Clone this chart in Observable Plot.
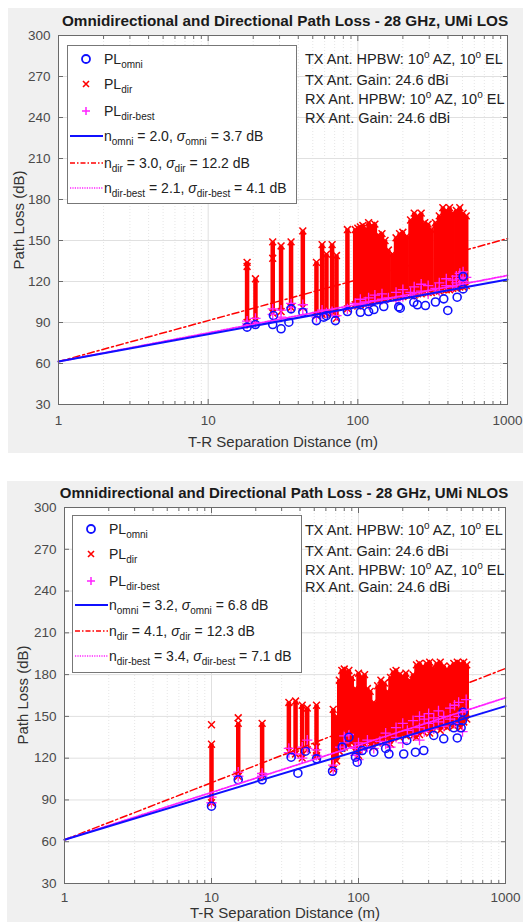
<!DOCTYPE html>
<html>
<head>
<meta charset="utf-8">
<script src="https://cdn.jsdelivr.net/npm/d3@7"></script>
<script src="https://cdn.jsdelivr.net/npm/@observablehq/plot@0.6"></script>
<style>
  body { margin:0; width:523px; height:922px; position:relative; background:#fff; overflow:hidden;
         font-family: "Liberation Sans", Arial, Helvetica, sans-serif; color:#222; }
  .panel { position:absolute; background:#f0f0f0; overflow:hidden; }
  .panel svg { position:absolute; left:0; top:0; }
  .title { position:absolute; font-weight:bold; white-space:nowrap; transform:translate(-50%,-50%); color:#1a1a1a; }
  .xlab { position:absolute; font-size:15px; white-space:nowrap; transform:translate(-50%,-50%); color:#333; }
  .ylab { position:absolute; font-size:15px; white-space:nowrap; transform:translate(-50%,-50%) rotate(-90deg); color:#333; }
  .legend { position:absolute; background:#fff; border:1px solid #777; box-sizing:border-box; }
  .lrow { position:absolute; left:0; height:22px; transform:translateY(-50%); white-space:nowrap; font-size:14px; line-height:22px; color:#222; }
  .lrow svg { position:absolute; left:0; top:0; }
  .lrow span.t { position:absolute; left:36px; top:0; }
  sub { font-size:10px; vertical-align:-4px; line-height:0; }
  .ann { position:absolute; font-size:14.5px; white-space:nowrap; transform:translateY(-50%); color:#222; }
  sup { font-size:10px; vertical-align:6px; line-height:0; }
  i.s { font-style:italic; }
</style>
</head>
<body>
<div id="p1" class="panel" style="left:8px; top:8px; width:515px; height:445px;"></div>
<div id="p2" class="panel" style="left:7px; top:481px; width:516px; height:441px;"></div>
<script>
// ---------- ticks ----------
const majorX = [1, 10, 100, 1000];
const minorX = [2,3,4,5,6,7,8,9,20,30,40,50,60,70,80,90,200,300,400,500,600,700,800,900];
const yTicks = [30, 60, 90, 120, 150, 180, 210, 240, 270, 300];

// ---------- LOS (top) ----------
const losOmniDist = [18.2, 20.7, 27, 27.3, 30.7, 34.6, 35.8, 42.9, 52.9, 59.2, 61.7, 70.8, 85.2, 104, 118, 128, 149, 187.6, 192, 236.6, 250, 283, 330, 375, 399, 461, 505, 505];
const losOmniPL   = [86.6, 88.5, 88.5, 95.1, 85.4, 90.2, 100, 97.5, 91.4, 93.9, 95, 91.4, 98, 97.5, 98, 99.5, 101.7, 101.4, 100.5, 104.8, 103, 102.4, 105, 107.3, 98.8, 108.5, 114.6, 123.6];

const losDirDist = [18.2, 20.7, 27, 30.7, 35.8, 42.9, 52.9, 57.7, 61.7, 67.3, 72, 85.2, 96, 100, 104, 108, 113, 118, 124, 130, 137, 145, 152, 160, 170, 180, 190, 200, 212, 225, 238, 250, 265, 280, 295, 310, 330, 350, 370, 390, 410, 430, 455, 480, 505, 530];
const losDirHi   = [134, 122, 149, 146, 149, 157, 134, 147, 140, 147, 139, 158, 158, 159, 160, 161, 158, 163, 161, 162, 154, 155, 150, 143, 140, 152, 155, 156, 153, 165, 170, 168, 170, 163, 162, 158, 163, 168, 174, 172, 174, 170, 172, 174, 170, 168];
const losDirLo   = [90, 91, 97, 98, 101, 101, 95, 96, 97, 96, 93, 100, 103, 102, 103, 104, 104, 104, 105, 106, 106, 107, 107, 108, 108, 108, 109, 109, 110, 110, 110, 111, 111, 112, 112, 112, 113, 113, 114, 114, 114, 115, 115, 116, 116, 117];
const losDirExtraDist = [27, 18.2];
const losDirExtraPL   = [137, 131];

const losBestDist = [18.2, 18.2, 20.7, 20.7, 27, 27, 30.7, 30.7, 35.8, 35.8, 42.9, 42.9, 52.9, 57.7, 57.7, 61.7, 67.3, 72, 85.2, 96, 104, 104, 113, 118, 118, 130, 130, 145, 145, 160, 180, 180, 200, 200, 225, 238, 238, 265, 265, 295, 295, 330, 350, 350, 390, 390, 430, 430, 455, 455, 480, 480, 505, 505, 530];
const losBestPL   = [89, 91, 90, 93, 96, 100, 94, 99, 101, 104, 100, 103, 94, 96, 99, 97, 98, 95, 100, 104, 103, 107, 105, 103, 108, 106, 110, 107, 111, 108, 106, 112, 109, 114, 112, 110, 116, 113, 118, 111, 117, 115, 119, 113, 117, 122, 116, 121, 124, 119, 122, 126, 120, 127, 123];

const fitDist = [1, 1000];
const losOmniFit = [61.4, 121.4];
const losDirFit  = [61.4, 151.4];
const losBestFit = [61.4, 124.4];

// ---------- NLOS (bottom) ----------
const nlosOmniDist = [10, 15.2, 22.1, 34.8, 38.7, 43.6, 51.8, 66.6, 77.5, 86, 95.4, 98, 106, 127, 153, 161, 203, 213, 244, 278, 325, 380, 445, 470, 499, 510, 515];
const nlosOmniPL   = [85.5, 104.5, 104.5, 120.7, 109.2, 125, 119.5, 110.6, 127.9, 135, 120.7, 117.1, 125.5, 124.3, 127, 123, 123, 132.7, 124.3, 125.5, 136.3, 133.9, 141.8, 134.5, 141.8, 147, 153];

const nlosDirDist = [10, 15.2, 22.1, 33.6, 37.3, 41.4, 44.8, 51.8, 67.3, 71, 74, 77, 80, 83, 86, 90, 95, 100, 105, 110, 115, 120, 127, 135, 142, 150, 157, 165, 172, 180, 190, 200, 210, 222, 235, 248, 260, 275, 290, 305, 320, 340, 360, 380, 400, 420, 445, 470, 495, 520, 545];
const nlosDirHi   = [130, 145, 145, 160, 161, 158, 156, 158, 155, 150, 176, 183, 184, 180, 183, 178, 170, 181, 178, 180, 170, 168, 160, 172, 176, 174, 168, 178, 182, 183, 180, 179, 181, 176, 180, 187, 188, 186, 188, 189, 185, 188, 189, 186, 184, 186, 188, 189, 188, 189, 187];
const nlosDirLo   = [88, 107, 107, 125, 123, 120, 126, 121, 112, 118, 125, 127, 128, 130, 130, 131, 125, 122, 128, 130, 132, 130, 128, 131, 133, 132, 134, 130, 135, 136, 135, 137, 136, 138, 136, 135, 137, 139, 140, 138, 141, 142, 140, 143, 142, 144, 143, 145, 142, 146, 148];
const nlosDirExtraDist = [10, 15.2, 51.8, 51.8];
const nlosDirExtraPL   = [144, 149, 128, 122];

const nlosBestDist = [10, 10, 15.2, 15.2, 22.1, 22.1, 33.6, 33.6, 37.3, 41.4, 41.4, 44.8, 44.8, 51.8, 51.8, 67.3, 67.3, 75, 80, 80, 86, 95, 95, 100, 100, 106, 115, 115, 127, 140, 153, 153, 165, 180, 180, 200, 200, 215, 235, 235, 260, 260, 260, 280, 280, 300, 300, 325, 325, 350, 350, 380, 380, 420, 420, 450, 450, 480, 480, 510, 510, 540, 540];
const nlosBestPL   = [88, 92, 107, 110, 107, 109, 124, 127, 123, 120, 128, 133, 127, 122, 126, 112, 115, 128, 131, 136, 137, 122, 127, 119, 131, 126, 128, 133, 127, 132, 130, 138, 128, 135, 142, 131, 145, 140, 137, 147, 133, 142, 150, 139, 148, 145, 152, 141, 149, 146, 154, 143, 150, 148, 156, 145, 158, 150, 160, 139, 153, 155, 162];

const nlosOmniFit = [61.4, 157.4];
const nlosDirFit  = [61.4, 184.4];
const nlosBestFit = [61.4, 163.4];

// ---------- colours ----------
const cBlue = "#1010ff", cRed = "#ff0000", cMag = "#ff22ff";

function zip(a, b, ka, kb) { return a.map((v, i) => ({[ka]: v, [kb]: b[i]})); }

function buildPlot(cfg) {
  const dir = cfg.dirDist.map((d, i) => ({d, lo: cfg.dirLo[i], hi: cfg.dirHi[i]}));
  const dirExtra = zip(cfg.dirExtraDist, cfg.dirExtraPL, "d", "pl");
  const omni = zip(cfg.omniDist, cfg.omniPL, "d", "pl");
  const best = zip(cfg.bestDist, cfg.bestPL, "d", "pl");
  const fO = zip(fitDist, cfg.omniFit, "d", "pl");
  const fD = zip(fitDist, cfg.dirFit, "d", "pl");
  const fB = zip(fitDist, cfg.bestFit, "d", "pl");
  const blank = () => "";
  return Plot.plot({
    width: cfg.width, height: cfg.height,
    marginLeft: cfg.ml, marginRight: cfg.mr, marginTop: cfg.mt, marginBottom: cfg.mb,
    x: {type: "log", domain: [1, 1000]},
    y: {type: "linear", domain: [30, 300]},
    style: {background: "transparent", fontFamily: "'Liberation Sans', Arial, sans-serif", fontSize: "13.5px", color: "#444", overflow: "visible"},
    marks: [
      Plot.frame({fill: "white", stroke: "none"}),
      Plot.gridX(minorX, {stroke: "#e6e6e6", strokeOpacity: 1, strokeDasharray: "1,2"}),
      Plot.gridX(majorX, {stroke: "#e0e0e0", strokeOpacity: 1}),
      Plot.gridY(yTicks, {stroke: "#e0e0e0", strokeOpacity: 1}),
      Plot.ruleX(dir, {x: "d", y1: "lo", y2: "hi", stroke: cRed, strokeWidth: cfg.stripeW}),
      Plot.dot(dir, {x: "d", y: "hi", symbol: "times", r: 3.2, stroke: cRed, strokeWidth: 1.5}),
      Plot.dot(dir, {x: "d", y: "lo", symbol: "times", r: 3.2, stroke: cRed, strokeWidth: 1.5}),
      Plot.dot(dirExtra, {x: "d", y: "pl", symbol: "times", r: 3.2, stroke: cRed, strokeWidth: 1.5}),
      Plot.dot(best, {x: "d", y: "pl", symbol: "plus", r: 3.4, stroke: cMag, strokeWidth: 1.3}),
      Plot.dot(omni, {x: "d", y: "pl", r: 4, fill: "none", stroke: cBlue, strokeWidth: 1.6}),
      Plot.line(fD, {x: "d", y: "pl", stroke: cRed, strokeWidth: 1.5, strokeDasharray: "7,3,2,3"}),
      Plot.line(fB, {x: "d", y: "pl", stroke: cMag, strokeWidth: 1.8, strokeDasharray: "1.5,1.5"}),
      Plot.line(fO, {x: "d", y: "pl", stroke: cBlue, strokeWidth: 2}),
      Plot.frame({stroke: "#6a6a6a", strokeWidth: 1}),
      Plot.axisY(yTicks, {anchor: "left", tickSize: -5, tickPadding: 13, label: null, stroke: "#6a6a6a", color: "#4a4a4a"}),
      Plot.axisY(yTicks, {anchor: "right", tickSize: -5, tickFormat: blank, label: null, stroke: "#6a6a6a"}),
      Plot.axisX(majorX, {anchor: "bottom", tickSize: -5, tickPadding: cfg.xPad, label: null, tickFormat: d => String(d), stroke: "#6a6a6a", color: "#4a4a4a"}),
      Plot.axisX(majorX, {anchor: "top", tickSize: -5, tickFormat: blank, label: null, stroke: "#6a6a6a"}),
      Plot.axisX(minorX, {anchor: "bottom", tickSize: -3, tickFormat: blank, label: null, stroke: "#6a6a6a"}),
      Plot.axisX(minorX, {anchor: "top", tickSize: -3, tickFormat: blank, label: null, stroke: "#6a6a6a"})
    ]
  });
}

function lineSample(color, width, dash) {
  return `<svg width="36" height="22"><line x1="2" x2="35" y1="11" y2="11" stroke="${color}" stroke-width="${width}" ${dash ? `stroke-dasharray="${dash}"` : ""}/></svg>`;
}
function markerSample(kind) {
  if (kind === "o") return `<svg width="36" height="22"><circle cx="18" cy="11" r="4" fill="none" stroke="${cBlue}" stroke-width="1.8"/></svg>`;
  if (kind === "x") return `<svg width="36" height="22"><path d="M15,8L21,14M21,8L15,14" stroke="${cRed}" stroke-width="1.6"/></svg>`;
  return `<svg width="36" height="22"><path d="M18,7V15M14,11H22" stroke="${cMag}" stroke-width="1.5"/></svg>`;
}

function addPanel(id, cfg) {
  const el = document.getElementById(id);
  el.appendChild(buildPlot(cfg));
  const add = (html) => { el.insertAdjacentHTML("beforeend", html); };
  add(`<div class="title" style="left:${cfg.titleX}px; top:${cfg.titleY}px; font-size:${cfg.titleSize}px;">${cfg.title}</div>`);
  add(`<div class="ylab" style="left:${cfg.ylabX}px; top:${cfg.ylabY}px;">Path Loss (dB)</div>`);
  add(`<div class="xlab" style="left:${cfg.xlabX}px; top:${cfg.xlabY}px;">T-R Separation Distance (m)</div>`);
  const rows = [
    markerSample("o") + `<span class="t">PL<sub>omni</sub></span>`,
    markerSample("x") + `<span class="t">PL<sub>dir</sub></span>`,
    markerSample("+") + `<span class="t">PL<sub>dir-best</sub></span>`,
    lineSample(cBlue, 2, null) + `<span class="t">n<sub>omni</sub> = ${cfg.leg[0]}, <i class="s">σ</i><sub>omni</sub> = ${cfg.leg[1]} dB</span>`,
    lineSample(cRed, 1.5, "5,2,1.5,2") + `<span class="t">n<sub>dir</sub> = ${cfg.leg[2]}, <i class="s">σ</i><sub>dir</sub> = ${cfg.leg[3]} dB</span>`,
    lineSample(cMag, 1.6, "1.2,1.2") + `<span class="t">n<sub>dir-best</sub> = ${cfg.leg[4]}, <i class="s">σ</i><sub>dir-best</sub> = ${cfg.leg[5]} dB</span>`
  ];
  let lg = `<div class="legend" style="left:${cfg.legX}px; top:${cfg.legY}px; width:${cfg.legW}px; height:${cfg.legH}px;">`;
  rows.forEach((r, i) => { lg += `<div class="lrow" style="top:${cfg.rowY[i]}px;">${r}</div>`; });
  lg += `</div>`;
  add(lg);
  const annLines = [
    "TX Ant. HPBW: 10<sup>o</sup> AZ, 10<sup>o</sup> EL",
    "TX Ant. Gain: 24.6 dBi",
    "RX Ant. HPBW: 10<sup>o</sup> AZ, 10<sup>o</sup> EL",
    "RX Ant. Gain: 24.6 dBi"
  ];
  annLines.forEach((t, i) => add(`<div class="ann" style="left:${cfg.annX}px; top:${cfg.annY[i]}px;">${t}</div>`));
}

addPanel("p1", {
  width: 515, height: 445, ml: 50, mr: 16, mt: 27, mb: 49, xPad: 16, stripeW: 4.5,
  omniDist: losOmniDist, omniPL: losOmniPL,
  dirDist: losDirDist, dirLo: losDirLo, dirHi: losDirHi,
  dirExtraDist: losDirExtraDist, dirExtraPL: losDirExtraPL,
  bestDist: losBestDist, bestPL: losBestPL,
  omniFit: losOmniFit, dirFit: losDirFit, bestFit: losBestFit,
  title: "Omnidirectional and Directional Path Loss - 28 GHz, UMi LOS", titleSize: 15.3,
  titleX: 277, titleY: 13, ylabX: 10, ylabY: 212, xlabX: 275, xlabY: 433,
  leg: ["2.0", "3.7", "3.0", "12.2", "2.1", "4.1"],
  legX: 59, legY: 37, legW: 230, legH: 159, rowY: [13, 38, 65, 90, 117, 142],
  annX: 297, annY: [51, 72, 91, 110]
});

addPanel("p2", {
  width: 516, height: 441, ml: 57, mr: 18, mt: 26, mb: 39, xPad: 14, stripeW: 4.5,
  omniDist: nlosOmniDist, omniPL: nlosOmniPL,
  dirDist: nlosDirDist, dirLo: nlosDirLo, dirHi: nlosDirHi,
  dirExtraDist: nlosDirExtraDist, dirExtraPL: nlosDirExtraPL,
  bestDist: nlosBestDist, bestPL: nlosBestPL,
  omniFit: nlosOmniFit, dirFit: nlosDirFit, bestFit: nlosBestFit,
  title: "Omnidirectional and Directional Path Loss - 28 GHz, UMi NLOS", titleSize: 15,
  titleX: 277, titleY: 11, ylabX: 15, ylabY: 214, xlabX: 278, xlabY: 431,
  leg: ["3.2", "6.8", "4.1", "12.3", "3.4", "7.1"],
  legX: 65, legY: 34, legW: 230, legH: 158, rowY: [13, 38, 65, 89, 115, 140],
  annX: 298, annY: [49, 70, 89, 106]
});
</script>
</body>
</html>
